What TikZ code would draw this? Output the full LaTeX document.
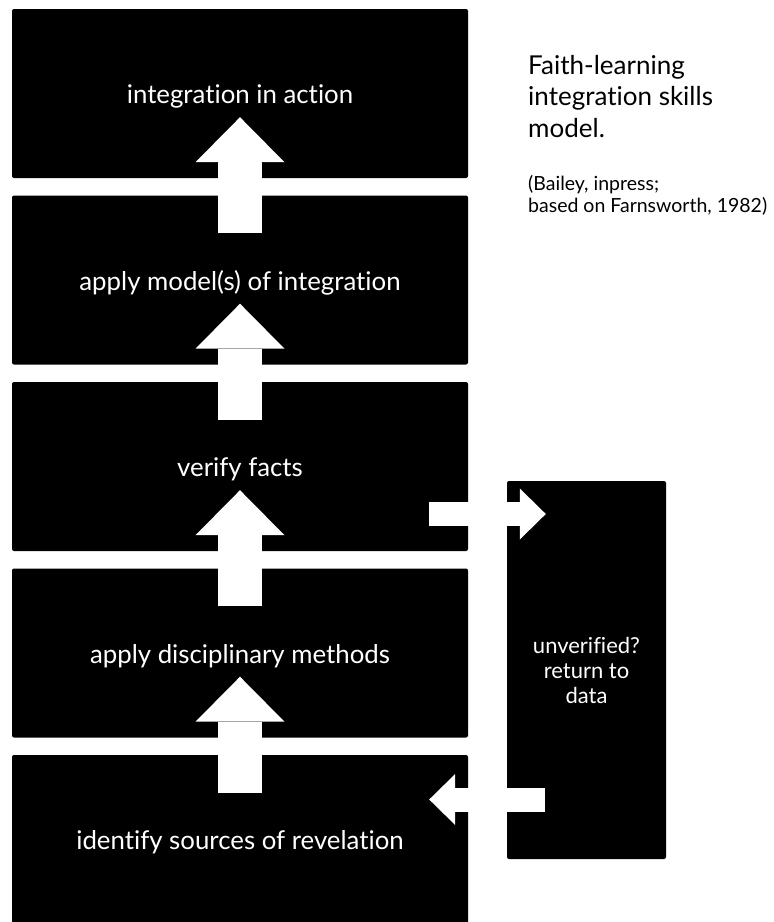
\documentclass[tikz,border=0pt]{standalone}
\usepackage{fontspec}
\setmainfont{Lato}[Ligatures=NoCommon]
\usetikzlibrary{arrows.meta, calc}

\begin{document}
\begin{tikzpicture}[x=1pt, y=-1pt,
    stage/.style={fill=black, rounded corners=2pt, minimum width=456pt, minimum height=169pt,
      inner sep=0pt, text=white, text height=25pt, text depth=5pt, font=\fontsize{25.8}{30}\selectfont},
    upflow/.style={white, line width=44pt, -{Triangle[width=89pt, length=45pt, line width=0pt]}},
    sideflow/.style={white, line width=24pt, -{Triangle[width=51pt, length=26pt, line width=0pt]}}]
  \useasboundingbox (0,0) rectangle (774,922);

  % the five stages, bottom one runs off the page
  \node[stage] (b1) at (240,93.5) {integration in action};
  \node[stage] (b2) at (240,280) {apply model(s) of integration};
  \node[stage] (b3) at (240,466.5) {verify facts};
  \node[stage] (b4) at (240,653) {apply disciplinary methods};
  \node[stage] (b5) at (240,839.5) {identify sources of revelation};

  \node[fill=black, rounded corners=2pt, minimum width=159pt, minimum height=378pt, inner sep=0pt,
    text=white, align=center, font=\fontsize{22}{25}\selectfont] (rbox) at (586.5,670)
    {unverified?\\return to\\data};

  % upward arrows
  \draw[upflow] ([yshift=-38pt]b2.north) -- ([yshift=61pt]b1.south);
  \draw[upflow] ([yshift=-38pt]b3.north) -- ([yshift=61pt]b2.south);
  \draw[upflow] ([yshift=-38pt]b4.north) -- ([yshift=61pt]b3.south);
  \draw[upflow] ([yshift=-38pt]b5.north) -- ([yshift=61pt]b4.south);

  % out to the side box and back
  \coordinate (vout) at ($(b3.east)+(-39,47.5)$);
  \coordinate (vback) at ($(rbox.west |- b5.center)+(38,-40)$);
  \draw[sideflow] (vout) -- ($(vout -| rbox.west)+(39,0)$);
  \draw[sideflow] (vback) -- ($(b5.east |- vback)+(-39,0)$);

  \node[anchor=base west, align=left, inner sep=0pt, font=\fontsize{26}{31.5}\selectfont] (title) at (528,137)
    {Faith-learning\\integration skills\\model.};
  \node[anchor=base west, align=left, inner sep=0pt, font=\fontsize{19.5}{22}\selectfont] (cite) at (528,212)
    {(Bailey, inpress;\\based on Farnsworth, 1982)};
\end{tikzpicture}
\end{document}
